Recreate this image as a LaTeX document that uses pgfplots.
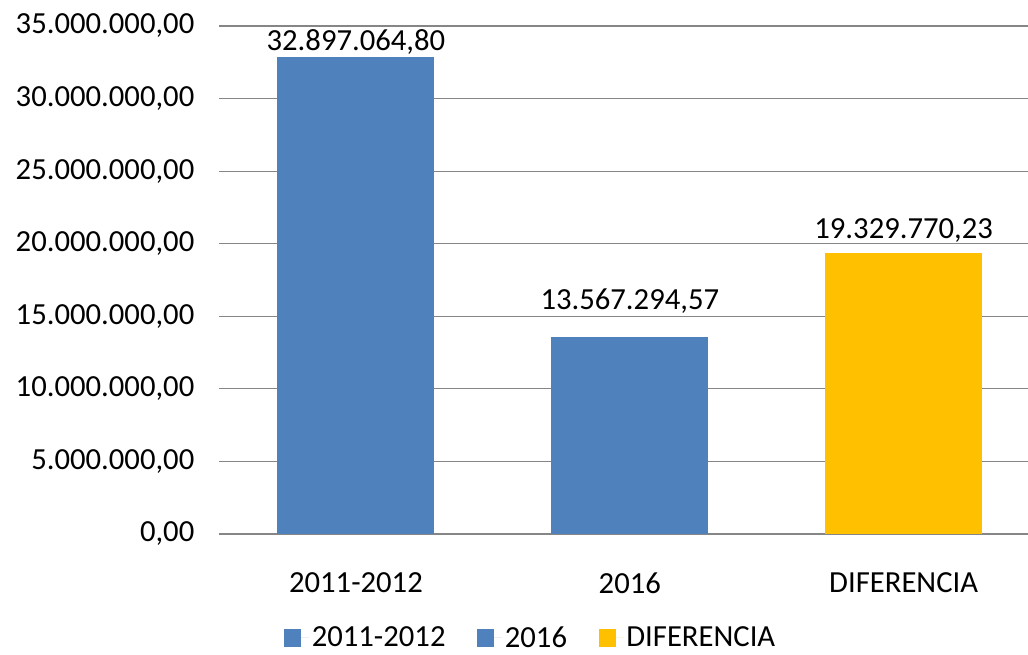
\documentclass[border=0pt]{standalone}
\usepackage{pgfplots}
\pgfplotsset{compat=1.18}
\usepackage{fontspec}
\setmainfont{Carlito}
\definecolor{exblue}{HTML}{4F81BD}
\definecolor{exgold}{HTML}{FFC000}
\definecolor{gridgray}{HTML}{868686}
\begin{document}
\begin{tikzpicture}
\useasboundingbox (0,0) rectangle (771pt,491.25pt);
\begin{axis}[
  at={(164.25pt,90.75pt)}, anchor=south west,
  scale only axis, width=606.75pt, height=381pt,
  xmin=-0.5, xmax=2.454, ymin=0, ymax=35000000,
  ybar, bar width=117.75pt, bar shift=0pt,
  axis lines=left, axis line style={-, gridgray, line width=0.8pt},
  y axis line style={draw=none},
  major tick length=0pt,
  ymajorgrids, grid style={gridgray, line width=0.8pt},
  ytick={0,5000000,10000000,15000000,20000000,25000000,30000000,35000000},
  yticklabels={{0,00},{5.000.000,00},{10.000.000,00},{15.000.000,00},{20.000.000,00},{25.000.000,00},{30.000.000,00},{35.000.000,00}},
  scaled y ticks=false,
  yticklabel style={font=\fontsize{23}{27}\selectfont, xshift=-15pt},
  xtick={0,1,2},
  xticklabels={2011-2012,2016,DIFERENCIA},
  xticklabel style={font=\fontsize{23}{27}\selectfont, yshift=-25.5pt},
  point meta=explicit symbolic,
  nodes near coords,
  every node near coord/.append style={font=\fontsize{23}{27}\selectfont, anchor=south, yshift=-2pt, text=black},
  legend columns=3,
  legend style={at={(0.3857,-0.2047)}, anchor=center, draw=none, fill=none,
    font=\fontsize{23}{27}\selectfont,
    /tikz/every even column/.append style={column sep=21.75pt}},
  legend image code/.code={\fill[#1] (0pt,-6.4pt) rectangle (12.75pt,6.4pt); \path (12.75pt,0pt) -- (18.75pt,0pt);},
]
\addplot[fill=exblue, draw=none] coordinates {(0,32897064.80) [32.897.064,80]};
\addlegendentry{2011-2012}
\addplot[fill=exblue, draw=none, every node near coord/.append style={yshift=16.5pt}] coordinates {(1,13567294.57) [13.567.294,57]};
\addlegendentry{2016}
\addplot[fill=exgold, draw=none, every node near coord/.append style={yshift=6.75pt}] coordinates {(2,19329770.23) [19.329.770,23]};
\addlegendentry{DIFERENCIA}
\end{axis}
\end{tikzpicture}
\end{document}
